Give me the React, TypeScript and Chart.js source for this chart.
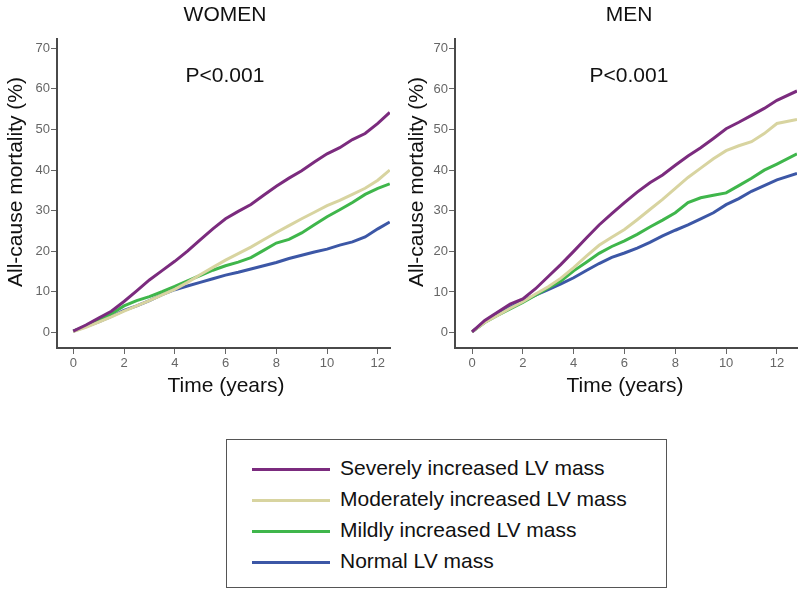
import React, { useEffect, useRef } from "react";
import { Chart, registerables } from "chart.js";

Chart.register(...registerables);

const FONT = '"Liberation Sans", Arial, Helvetica, sans-serif';

const seriesNames = [
  "Severely increased LV mass",
  "Moderately increased LV mass",
  "Mildly increased LV mass",
  "Normal LV mass",
];
const seriesColors = ["#7b2b7e", "#d8d4a0", "#3fb64b", "#3c57a6"];

const xTicks = [0, 2, 4, 6, 8, 10, 12];
const yTicks = [0, 10, 20, 30, 40, 50, 60, 70];

// WOMEN (time in years, mortality in %)
const womenTime = [0, 0.5, 1, 1.5, 2, 2.5, 3, 3.5, 4, 4.5, 5, 5.5, 6, 6.5, 7, 7.5, 8, 8.5, 9, 9.5, 10, 10.5, 11, 11.5, 12, 12.47];
const womenSevere = [0.3, 1.8, 3.5, 5.2, 7.6, 10.2, 12.9, 15.2, 17.5, 20, 22.8, 25.5, 28, 29.8, 31.5, 33.8, 36, 38, 39.8, 42, 44, 45.5, 47.5, 49, 51.5, 54.2];
const womenModerate = [0.2, 1.2, 2.5, 3.8, 5.2, 6.5, 7.8, 9.2, 10.6, 12.3, 14.2, 16, 17.8, 19.4, 21, 22.8, 24.6, 26.3, 28, 29.6, 31.2, 32.5, 34, 35.5, 37.5, 40];
const womenMild = [0.3, 1.5, 3, 4.5, 6.5, 7.8, 8.8, 10, 11.3, 12.7, 14, 15.3, 16.4, 17.3, 18.4, 20.2, 22, 22.9, 24.5, 26.5, 28.5, 30.2, 32, 34, 35.5, 36.6];
const womenNormal = [0.3, 1.4, 2.6, 3.9, 5.4, 6.5, 7.8, 9.3, 10.5, 11.4, 12.3, 13.2, 14.1, 14.8, 15.6, 16.4, 17.2, 18.2, 19, 19.8, 20.5, 21.5, 22.3, 23.5, 25.5, 27.2];

// MEN
const menTime = [0, 0.5, 1, 1.5, 2, 2.5, 3, 3.5, 4, 4.5, 5, 5.5, 6, 6.5, 7, 7.5, 8, 8.5, 9, 9.5, 10, 10.5, 11, 11.5, 12, 12.79];
const menSevere = [0.2, 3, 5, 7, 8.3, 10.8, 13.8, 16.8, 20, 23.3, 26.5, 29.3, 32, 34.6, 36.9, 38.8, 41.2, 43.5, 45.5, 47.8, 50.2, 51.8, 53.5, 55.2, 57.2, 59.5];
const menModerate = [0.2, 2.5, 4.2, 6, 7.6, 9.5, 11.3, 13.4, 16, 18.8, 21.5, 23.5, 25.4, 27.8, 30.3, 32.8, 35.5, 38.2, 40.5, 42.8, 44.8, 46, 47, 49, 51.5, 52.5];
const menMild = [0.2, 2.5, 4.2, 5.8, 7.4, 9.2, 11, 12.7, 15.2, 17.3, 19.5, 21.2, 22.6, 24.2, 26, 27.7, 29.5, 32, 33.2, 33.8, 34.4, 36.2, 38, 40, 41.5, 44];
const menNormal = [0.2, 2.6, 4.4, 6.2, 7.8, 9.2, 10.6, 12, 13.5, 15.3, 17, 18.5, 19.6, 20.8, 22.2, 23.8, 25.2, 26.5, 28, 29.5, 31.5, 33, 34.8, 36.2, 37.6, 39.2];

type TextItem = { text: string; x: number; y: number; size: number; rotate?: boolean };

function makeTextPlugin(items: TextItem[]) {
  return {
    id: "texts",
    afterDraw(chart: any) {
      const ctx = chart.ctx;
      for (const t of items) {
        ctx.save();
        ctx.font = `${t.size}px ${FONT}`;
        ctx.fillStyle = "#111";
        ctx.textAlign = "center";
        ctx.textBaseline = "alphabetic";
        ctx.translate(t.x, t.y);
        if (t.rotate) ctx.rotate(-Math.PI / 2);
        ctx.fillText(t.text, 0, 0);
        ctx.restore();
      }
    },
  };
}

type PanelProps = {
  time: number[];
  series: number[][];
  left: number;
  xMin: number;
  xMax: number;
  yMin: number;
  yMax: number;
  padRight: number;
  yWidth: number;
  texts: TextItem[];
};

function Panel(props: PanelProps) {
  const ref = useRef<HTMLCanvasElement | null>(null);
  useEffect(() => {
    if (!ref.current) return;
    const datasets = props.series.map((vals, i) => ({
      label: seriesNames[i],
      data: props.time.map((t, j) => ({ x: t, y: vals[j] })),
      borderColor: seriesColors[i],
      backgroundColor: seriesColors[i],
      borderWidth: 3,
      pointRadius: 0,
      tension: 0,
      fill: false,
      order: i,
    }));
    const tickFont = { size: 13, family: FONT };
    const chart = new Chart(ref.current, {
      type: "line",
      data: { datasets },
      options: {
        responsive: false,
        animation: false,
        devicePixelRatio: 1,
        layout: { padding: { top: 39, right: props.padRight, left: 0, bottom: 0 } },
        plugins: {
          legend: { display: false },
          tooltip: { enabled: false },
          title: { display: false },
        },
        scales: {
          x: {
            type: "linear",
            min: props.xMin,
            max: props.xMax,
            afterBuildTicks: (s: any) => {
              s.ticks = xTicks.map((v) => ({ value: v }));
            },
            afterFit: (s: any) => {
              s.height = 72;
            },
            grid: { drawOnChartArea: false, drawTicks: true, tickLength: 6, color: "#666", lineWidth: 1 },
            border: { display: true, color: "#4a4a4a", width: 2 },
            ticks: { color: "#666", font: tickFont, padding: 2, maxRotation: 0, autoSkip: false },
          },
          y: {
            type: "linear",
            min: props.yMin,
            max: props.yMax,
            afterBuildTicks: (s: any) => {
              s.ticks = yTicks.map((v) => ({ value: v }));
            },
            afterFit: (s: any) => {
              s.width = props.yWidth;
            },
            grid: { drawOnChartArea: false, drawTicks: true, tickLength: 6, color: "#666", lineWidth: 1 },
            border: { display: true, color: "#4a4a4a", width: 2 },
            ticks: { color: "#666", font: tickFont, padding: 1, autoSkip: false },
          },
        },
      },
      plugins: [makeTextPlugin(props.texts)],
    } as any);
    return () => chart.destroy();
  }, []);
  return (
    <canvas
      ref={ref}
      width={399}
      height={420}
      style={{ position: "absolute", left: props.left, top: 0, width: 399, height: 420 }}
    />
  );
}

const legendBaselines = [37, 68, 99, 130];

export default function App() {
  return (
    <div style={{ position: "absolute", left: 0, top: 0, width: 798, height: 595, background: "#fff", overflow: "hidden" }}>
      <Panel
        time={womenTime}
        series={[womenSevere, womenModerate, womenMild, womenNormal]}
        left={0}
        xMin={-0.64}
        xMax={12.48}
        yMin={-3.87}
        yMax={72.3}
        padRight={9}
        yWidth={57}
        texts={[
          { text: "WOMEN", x: 225, y: 21, size: 21 },
          { text: "P<0.001", x: 225, y: 82, size: 21 },
          { text: "All-cause mortality (%)", x: 22, y: 182, size: 21, rotate: true },
          { text: "Time (years)", x: 226, y: 392, size: 21 },
        ]}
      />
      <Panel
        time={menTime}
        series={[menSevere, menModerate, menMild, menNormal]}
        left={399}
        xMin={-0.67}
        xMax={12.79}
        yMin={-3.8}
        yMax={72.3}
        padRight={1}
        yWidth={56}
        texts={[
          { text: "MEN", x: 230, y: 21, size: 21 },
          { text: "P<0.001", x: 230, y: 82, size: 21 },
          { text: "All-cause mortality (%)", x: 24, y: 182, size: 21, rotate: true },
          { text: "Time (years)", x: 226, y: 392, size: 21 },
        ]}
      />
      <div
        style={{
          position: "absolute",
          left: 226,
          top: 439,
          width: 439,
          height: 147,
          border: "1px solid #555",
          fontFamily: FONT,
        }}
      >
        {seriesNames.map((name, i) => (
          <React.Fragment key={name}>
            <div
              style={{
                position: "absolute",
                left: 25,
                top: legendBaselines[i] - 9,
                width: 78,
                height: 3,
                background: seriesColors[i],
              }}
            />
            <div
              style={{
                position: "absolute",
                left: 113,
                top: legendBaselines[i] - 21,
                height: 24,
                lineHeight: "24px",
                fontSize: 21,
                color: "#111",
                whiteSpace: "nowrap",
              }}
            >
              {name}
            </div>
          </React.Fragment>
        ))}
      </div>
    </div>
  );
}
